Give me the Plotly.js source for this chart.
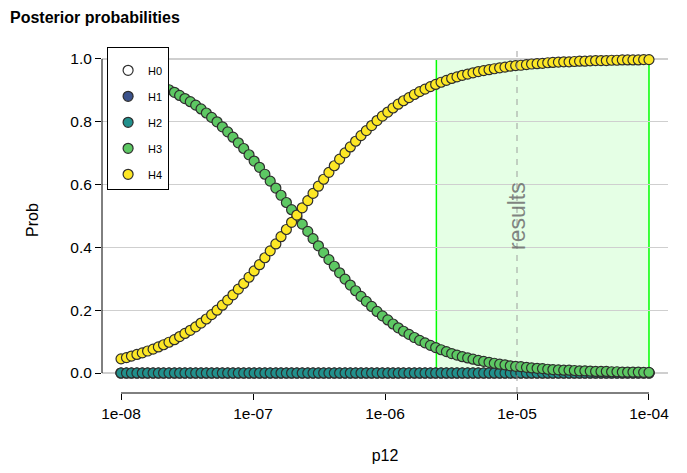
<!DOCTYPE html>
<html>
<head>
<meta charset="utf-8">
<script src="https://cdn.plot.ly/plotly-3.0.1.min.js"></script>
<style>
  html, body { margin: 0; padding: 0; background: #fff; }
  #chart { width: 687px; height: 473px; }
</style>
</head>
<body>
<div id="chart"></div>
<script>
// Prior p12 grid (log-spaced) and posterior probability of each hypothesis
const p12 = [
  1.00e-8, 1.10e-8, 1.20e-8, 1.32e-8, 1.45e-8, 1.59e-8, 1.75e-8, 1.92e-8, 2.10e-8, 2.31e-8,
  2.54e-8, 2.78e-8, 3.05e-8, 3.35e-8, 3.68e-8, 4.04e-8, 4.43e-8, 4.86e-8, 5.34e-8, 5.86e-8,
  6.43e-8, 7.05e-8, 7.74e-8, 8.50e-8, 9.33e-8, 1.02e-7, 1.12e-7, 1.23e-7, 1.35e-7, 1.49e-7,
  1.63e-7, 1.79e-7, 1.96e-7, 2.15e-7, 2.36e-7, 2.60e-7, 2.85e-7, 3.13e-7, 3.43e-7, 3.76e-7,
  4.13e-7, 4.53e-7, 4.98e-7, 5.46e-7, 5.99e-7, 6.58e-7, 7.22e-7, 7.92e-7, 8.70e-7, 9.55e-7,
  1.05e-6, 1.15e-6, 1.26e-6, 1.38e-6, 1.52e-6, 1.67e-6, 1.83e-6, 2.01e-6, 2.21e-6, 2.42e-6,
  2.66e-6, 2.92e-6, 3.20e-6, 3.51e-6, 3.85e-6, 4.23e-6, 4.64e-6, 5.09e-6, 5.59e-6, 6.14e-6,
  6.73e-6, 7.39e-6, 8.11e-6, 8.90e-6, 9.77e-6, 1.07e-5, 1.18e-5, 1.29e-5, 1.42e-5, 1.56e-5,
  1.71e-5, 1.87e-5, 2.06e-5, 2.26e-5, 2.48e-5, 2.72e-5, 2.98e-5, 3.27e-5, 3.59e-5, 3.94e-5,
  4.33e-5, 4.75e-5, 5.21e-5, 5.72e-5, 6.28e-5, 6.89e-5, 7.56e-5, 8.30e-5, 9.11e-5, 1.00e-4
];

const H0 = [
  0,0,0,0,0,0,0,0,0,0, 0,0,0,0,0,0,0,0,0,0, 0,0,0,0,0,0,0,0,0,0, 0,0,0,0,0,0,0,0,0,0,
  0,0,0,0,0,0,0,0,0,0, 0,0,0,0,0,0,0,0,0,0, 0,0,0,0,0,0,0,0,0,0, 0,0,0,0,0,0,0,0,0,0,
  0,0,0,0,0,0,0,0,0,0, 0,0,0,0,0,0,0,0,0,0
];
const H1 = [
  0,0,0,0,0,0,0,0,0,0, 0,0,0,0,0,0,0,0,0,0, 0,0,0,0,0,0,0,0,0,0, 0,0,0,0,0,0,0,0,0,0,
  0,0,0,0,0,0,0,0,0,0, 0,0,0,0,0,0,0,0,0,0, 0,0,0,0,0,0,0,0,0,0, 0,0,0,0,0,0,0,0,0,0,
  0,0,0,0,0,0,0,0,0,0, 0,0,0,0,0,0,0,0,0,0
];
const H2 = [
  0,0,0,0,0,0,0,0,0,0, 0,0,0,0,0,0,0,0,0,0, 0,0,0,0,0,0,0,0,0,0, 0,0,0,0,0,0,0,0,0,0,
  0,0,0,0,0,0,0,0,0,0, 0,0,0,0,0,0,0,0,0,0, 0,0,0,0,0,0,0,0,0,0, 0,0,0,0,0,0,0,0,0,0,
  0,0,0,0,0,0,0,0,0,0, 0,0,0,0,0,0,0,0,0,0
];
const H3 = [
  0.955, 0.951, 0.946, 0.941, 0.936, 0.930, 0.924, 0.917, 0.910, 0.902,
  0.894, 0.884, 0.874, 0.864, 0.853, 0.841, 0.828, 0.814, 0.800, 0.784,
  0.768, 0.751, 0.733, 0.715, 0.695, 0.675, 0.655, 0.633, 0.611, 0.589,
  0.566, 0.543, 0.520, 0.497, 0.474, 0.451, 0.428, 0.405, 0.383, 0.361,
  0.340, 0.319, 0.299, 0.280, 0.262, 0.244, 0.228, 0.212, 0.196, 0.182,
  0.169, 0.156, 0.144, 0.133, 0.123, 0.113, 0.104, 0.096, 0.088, 0.081,
  0.074, 0.068, 0.062, 0.057, 0.052, 0.048, 0.044, 0.040, 0.037, 0.034,
  0.031, 0.028, 0.026, 0.023, 0.021, 0.020, 0.018, 0.016, 0.015, 0.014,
  0.012, 0.011, 0.010, 0.009, 0.009, 0.008, 0.007, 0.007, 0.006, 0.005,
  0.005, 0.005, 0.004, 0.004, 0.003, 0.003, 0.003, 0.003, 0.002, 0.002
];
const H4 = [
  0.045, 0.049, 0.054, 0.059, 0.064, 0.070, 0.076, 0.083, 0.090, 0.098,
  0.106, 0.116, 0.126, 0.136, 0.147, 0.159, 0.172, 0.186, 0.200, 0.216,
  0.232, 0.249, 0.267, 0.285, 0.305, 0.325, 0.345, 0.367, 0.389, 0.411,
  0.434, 0.457, 0.480, 0.503, 0.526, 0.549, 0.572, 0.595, 0.617, 0.639,
  0.660, 0.681, 0.701, 0.720, 0.738, 0.756, 0.772, 0.788, 0.804, 0.818,
  0.831, 0.844, 0.856, 0.867, 0.877, 0.887, 0.896, 0.904, 0.912, 0.919,
  0.926, 0.932, 0.938, 0.943, 0.948, 0.952, 0.956, 0.960, 0.963, 0.966,
  0.969, 0.972, 0.974, 0.977, 0.979, 0.980, 0.982, 0.984, 0.985, 0.986,
  0.988, 0.989, 0.990, 0.991, 0.991, 0.992, 0.993, 0.993, 0.994, 0.995,
  0.995, 0.995, 0.996, 0.996, 0.997, 0.997, 0.997, 0.997, 0.998, 0.998
];

const seriesNames = ['H0', 'H1', 'H2', 'H3', 'H4'];
const seriesValues = [H0, H1, H2, H3, H4];
const seriesColors = ['#FFFFFF', '#3B528B', '#21908C', '#5DC863', '#FDE725'];

const xTickVals = [1e-8, 1e-7, 1e-6, 1e-5, 1e-4];
const xTickText = ['1e-08', '1e-07', '1e-06', '1e-05', '1e-04'];
const yTickVals = [0, 0.2, 0.4, 0.6, 0.8, 1.0];

// p12 window where results hold, and the p12 actually used
const resultsRange = [2.45e-6, 1e-4];
const resultsP12 = 1e-5;

const FONT = 'Liberation Sans, Arial, sans-serif';

const traces = seriesNames.map((name, i) => ({
  type: 'scatter',
  mode: 'markers',
  name: name,
  legendgroup: name,
  x: p12,
  y: seriesValues[i],
  marker: {
    size: 10,
    color: seriesColors[i],
    line: { color: '#2e2e2e', width: 1.2 }
  },
  hoverinfo: 'skip'
}));

const layout = {
  width: 687,
  height: 473,
  margin: { l: 102, r: 19, t: 47, b: 80, pad: 0 },
  paper_bgcolor: '#ffffff',
  plot_bgcolor: '#ffffff',
  font: { family: FONT, size: 16, color: '#000000' },
  title: {
    text: '<b>Posterior probabilities</b>',
    font: { family: FONT, size: 16, color: '#000000' },
    x: 10 / 687, xanchor: 'left', xref: 'container',
    y: 1 - 17 / 473, yanchor: 'middle', yref: 'container'
  },
  xaxis: {
    type: 'log',
    range: [Math.log10(xTickVals[0]) - 0.144, Math.log10(xTickVals[4]) + 0.144],
    tickvals: xTickVals,
    ticktext: xTickText,
    ticks: 'outside', ticklen: 6, tickwidth: 1, tickcolor: '#000000',
    showgrid: false, zeroline: false, showline: false,
    tickfont: { family: FONT, size: 15.5, color: '#000000' },
    title: { text: 'p12', font: { family: FONT, size: 16, color: '#000000' }, standoff: 29 }
  },
  yaxis: {
    range: [-0.0637, 1.0382],
    tickvals: yTickVals,
    tickformat: '.1f',
    ticks: 'outside', ticklen: 6, tickwidth: 1, tickcolor: '#000000',
    showgrid: true, gridcolor: '#cfcfcf', gridwidth: 1.3,
    zeroline: false, showline: false,
    tickfont: { family: FONT, size: 15.5, color: '#000000' },
    title: { text: 'Prob', font: { family: FONT, size: 16, color: '#000000' }, standoff: 27 }
  },
  showlegend: true,
  legend: {
    x: 0.009, xanchor: 'left', y: 1, yanchor: 'top',
    bgcolor: '#ffffff', bordercolor: '#000000', borderwidth: 1,
    font: { family: FONT, size: 11, color: '#000000' },
    title: { text: ' ', font: { family: FONT, size: 6 } },
    traceorder: 'grouped', tracegroupgap: 7,
    itemwidth: 30
  },
  shapes: [
    // highlighted results window
    {
      type: 'rect', layer: 'below',
      xref: 'x', yref: 'y',
      x0: resultsRange[0], x1: resultsRange[1], y0: 0, y1: 1,
      fillcolor: 'rgba(0,255,0,0.1)',
      line: { color: '#00ff00', width: 1.5 }
    },
    // chosen p12
    {
      type: 'line', layer: 'above',
      xref: 'x', yref: 'paper',
      x0: resultsP12, x1: resultsP12, y0: 0, y1: 1,
      line: { color: 'rgba(150,150,150,0.6)', width: 1.5, dash: '6px,6px' }
    },
    // axis lines spanning the outermost ticks
    {
      type: 'line', layer: 'above',
      xref: 'paper', yref: 'y',
      x0: 0, x1: 0, y0: yTickVals[0], y1: yTickVals[yTickVals.length - 1],
      line: { color: '#000000', width: 1 }
    },
    {
      type: 'line', layer: 'above',
      xref: 'x', yref: 'paper',
      x0: xTickVals[0], x1: xTickVals[xTickVals.length - 1], y0: 0, y1: 0,
      line: { color: '#000000', width: 1 }
    }
  ],
  annotations: [
    {
      xref: 'x', yref: 'y',
      x: Math.log10(resultsP12), y: 0.5,
      text: 'results', textangle: -90,
      showarrow: false,
      font: { family: FONT, size: 23, color: 'rgba(110,110,110,0.85)' }
    }
  ]
};

Plotly.newPlot('chart', traces, layout, { displayModeBar: false, staticPlot: true });
</script>
</body>
</html>
